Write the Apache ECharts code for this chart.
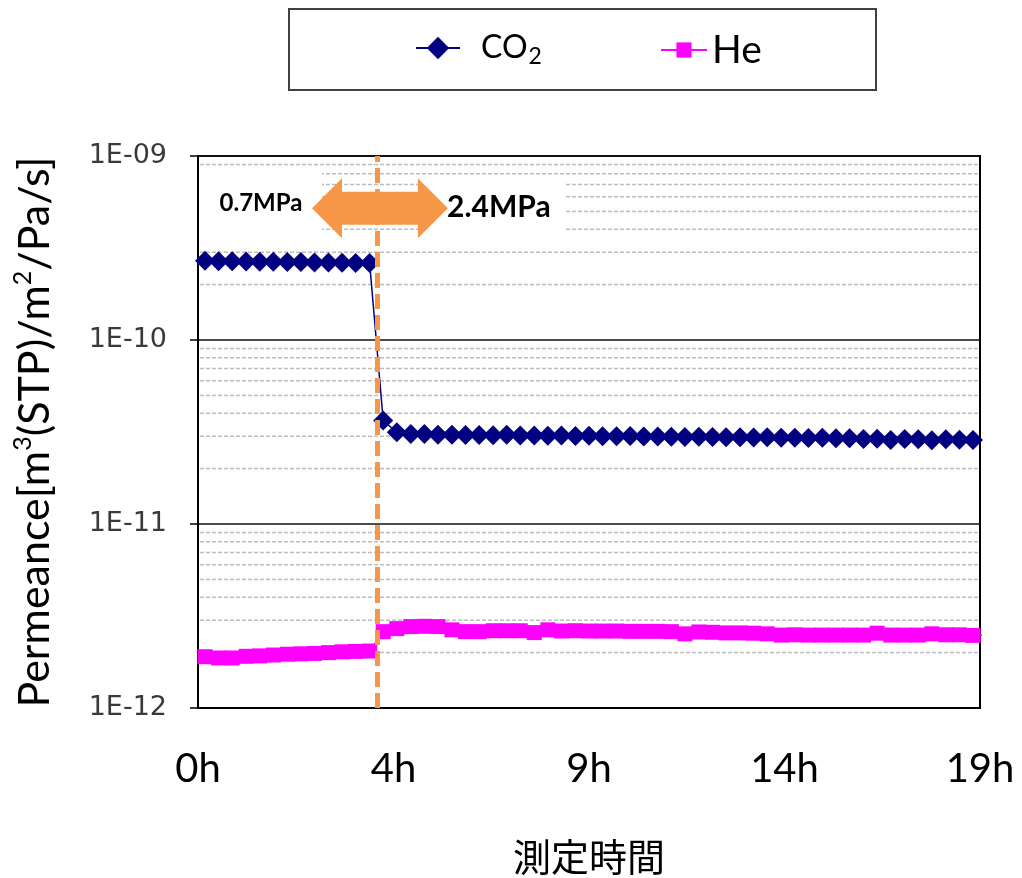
<!DOCTYPE html>
<html><head><meta charset="utf-8">
<script src="https://cdn.jsdelivr.net/npm/echarts@6/dist/echarts.min.js"></script>
<style>html,body{margin:0;padding:0;background:#fff}#c{width:1022px;height:878px}</style>
</head><body><div id="c"></div>
<script>
// ---- data (hours since start) ----
const timesH = [0.17,0.5,0.83,1.17,1.5,1.83,2.17,2.5,2.83,3.17,3.5,3.83,4.17,
  4.5,4.83,5.17,5.5,5.83,6.17,6.5,6.83,7.17,7.5,7.83,8.17,8.5,8.83,9.17,9.5,9.83,
  10.17,10.5,10.83,11.17,11.5,11.83,12.17,12.5,12.83,13.17,13.5,13.83,14.17,14.5,14.83,
  15.17,15.5,15.83,16.17,16.5,16.83,17.17,17.5,17.83,18.17,18.5,18.83,19.17];
const co2 = [2.70e-10,2.68e-10,2.68e-10,2.67e-10,2.66e-10,2.66e-10,2.65e-10,2.65e-10,2.64e-10,2.64e-10,2.63e-10,2.62e-10,2.62e-10,
  3.65e-11,3.15e-11,3.08e-11,3.08e-11,3.06e-11,3.06e-11,3.05e-11,3.05e-11,3.04e-11,3.06e-11,3.03e-11,3.03e-11,3.02e-11,3.03e-11,3.01e-11,3.02e-11,3.00e-11,
  3.00e-11,3.01e-11,2.99e-11,2.99e-11,2.98e-11,2.97e-11,2.98e-11,2.97e-11,2.96e-11,2.96e-11,2.95e-11,2.96e-11,2.94e-11,2.94e-11,2.93e-11,
  2.94e-11,2.92e-11,2.92e-11,2.90e-11,2.91e-11,2.86e-11,2.90e-11,2.89e-11,2.85e-11,2.89e-11,2.87e-11,2.86e-11,2.87e-11];
const he = [1.90e-12,1.87e-12,1.87e-12,1.91e-12,1.92e-12,1.94e-12,1.96e-12,1.97e-12,1.98e-12,2.00e-12,2.02e-12,2.03e-12,2.04e-12,
  2.60e-12,2.70e-12,2.77e-12,2.78e-12,2.77e-12,2.66e-12,2.60e-12,2.60e-12,2.63e-12,2.63e-12,2.63e-12,2.57e-12,2.66e-12,2.62e-12,2.63e-12,2.62e-12,2.62e-12,
  2.62e-12,2.61e-12,2.61e-12,2.61e-12,2.60e-12,2.53e-12,2.59e-12,2.58e-12,2.56e-12,2.56e-12,2.55e-12,2.53e-12,2.49e-12,2.50e-12,2.49e-12,
  2.49e-12,2.49e-12,2.49e-12,2.49e-12,2.55e-12,2.49e-12,2.49e-12,2.49e-12,2.53e-12,2.50e-12,2.50e-12,2.48e-12,2.49e-12];
const seriesNames = ['CO2','He'];
const xTickLabels = ['0h','4h','9h','14h','19h'];
const yTickLabels = ['1E-12','1E-11','1E-10','1E-09'];
const xAxisTitle = '測定時間';
const pressureChangeH = 4.35;
const pressureLabels = ['0.7MPa','2.4MPa'];

// ---- annotation anchors (data units) ----
const lowLabelAt = [1.53, 5.55e-10];
const highLabelAt = [7.31, 5.28e-10];
const arrowFrom = [2.77, 5.2e-10];
const arrowTo = [6.07, 5.2e-10];

// minor log grid values (2..9 x 10^d)
const minorGrid = [];
for (let d = -12; d < -9; d++) for (let m = 2; m <= 9; m++) minorGrid.push([0, m * Math.pow(10, d)]);

const chart = echarts.init(document.getElementById('c'), null, {renderer: 'canvas'});
const lato = 'Lato, "Open Sans", sans-serif';
chart.setOption({
  animation: false,
  backgroundColor: '#fff',
  grid: {left: 198, right: 42, top: 156, bottom: 170, outerBoundsMode: 'none', containLabel: false,
    show: true, borderColor: '#000', borderWidth: 2, backgroundColor: 'transparent'},
  legend: [
    {data: [{name: 'CO2'}], left: 410, top: 27, itemWidth: 44, itemHeight: 28,
     formatter: () => '{a|CO}{b|2}',
     textStyle: {padding: [0, 0, 0, 16], rich: {
       a: {fontFamily: lato, fontSize: 32, color: '#000', lineHeight: 40},
       b: {fontFamily: lato, fontSize: 23, color: '#000', lineHeight: 12, verticalAlign: 'bottom', padding: [0, 0, 0, 1]}}}},
    {data: [{name: 'He'}], left: 655, top: 21, itemWidth: 46, itemHeight: 19,
     textStyle: {fontFamily: lato, fontSize: 39, color: '#000', lineHeight: 40, padding: [0, 0, 8, 0]}}
  ],
  xAxis: {
    type: 'value', min: 0, max: 19, interval: 4.75,
    axisLine: {show: true, onZero: false, lineStyle: {color: '#000', width: 2}},
    axisTick: {show: false},
    splitLine: {show: false},
    axisLabel: {margin: 41, fontFamily: lato, fontSize: 40, color: '#000',
      formatter: v => xTickLabels[Math.round(v / 4.75)]},
    name: xAxisTitle, nameLocation: 'middle', nameGap: 130,
    nameTextStyle: {fontFamily: '"Noto Sans CJK JP", sans-serif', fontSize: 38, color: '#000'}
  },
  yAxis: {
    type: 'log', logBase: 10, min: 1e-12, max: 1e-9,
    axisLine: {show: true, lineStyle: {color: '#000', width: 2}},
    axisTick: {show: true, length: 8, lineStyle: {color: '#000', width: 1.5}},
    axisLabel: {margin: 31, fontFamily: '"DejaVu Sans", Verdana, sans-serif', fontSize: 27, color: '#3a3a3a',
      formatter: v => yTickLabels[Math.round(Math.log10(v)) + 12]},
    splitLine: {show: true, lineStyle: {color: '#111', width: 1.5}},
    name: 'Permeance[m{sup|3}(STP)/m{sup|2}/Pa/s]', nameLocation: 'middle', nameGap: 138,
    nameTextStyle: {fontFamily: lato, fontSize: 43, color: '#000', lineHeight: 50,
      rich: {sup: {fontFamily: lato, fontSize: 25, color: '#000', lineHeight: 32, verticalAlign: 'top'}}}
  },
  series: [
    {type: 'custom', name: 'minor', data: minorGrid, z: 1, silent: true, clip: false,
     encode: {x: 0, y: 1},
     renderItem: (params, api) => {
       const y = api.coord([0, api.value(1)])[1];
       const cs = params.coordSys;
       return {type: 'line', shape: {x1: cs.x + 2, y1: y, x2: cs.x + cs.width - 2, y2: y},
         style: {stroke: '#bdbdbd', lineWidth: 1.5, lineDash: [4, 2]}};
     }},
    {type: 'line', name: seriesNames[0], data: timesH.map((t, i) => [t, co2[i]]), z: 3,
     symbol: 'diamond', symbolSize: 20, color: '#000080',
     lineStyle: {color: '#000080', width: 1.5}, itemStyle: {color: '#000080'}},
    {type: 'line', name: seriesNames[1], data: timesH.map((t, i) => [t, he[i]]), z: 3,
     symbol: 'rect', symbolSize: 15, color: '#FF00FF',
     lineStyle: {color: '#FF00FF', width: 1.5}, itemStyle: {color: '#FF00FF'}},
    {type: 'line', name: 'change', data: [], z: 5, silent: true,
     markLine: {silent: true, symbol: 'none', label: {show: false}, animation: false,
       lineStyle: {color: '#F79646', width: 5, type: [15, 6]}, data: [{xAxis: pressureChangeH}]}}
  ]
});

const p = v => chart.convertToPixel({gridIndex: 0}, v);
const a0 = p(arrowFrom), a1 = p(arrowTo);
const cy = a0[1], headL = 30, headH = 30, shaftH = 16.5;
const lo = p(lowLabelAt), hi = p(highLabelAt);
chart.setOption({
  graphic: [
    {type: 'rect', z: 10, shape: {x: 200, y: lo[1] - 30, width: 122, height: 68}, style: {fill: '#fff'}},
    {type: 'rect', z: 10, shape: {x: hi[0] - 76, y: hi[1] - 32, width: 142, height: 68}, style: {fill: '#fff'}},
    {type: 'text', z: 12, x: lo[0], y: lo[1],
     style: {text: pressureLabels[0], fontFamily: lato, fontWeight: 'bold', fontSize: 24, fill: '#000', align: 'center', verticalAlign: 'middle'}},
    {type: 'text', z: 12, x: hi[0], y: hi[1],
     style: {text: pressureLabels[1], fontFamily: lato, fontWeight: 'bold', fontSize: 30, fill: '#000', align: 'center', verticalAlign: 'middle'}},
    {type: 'polygon', z: 11, shape: {points: [
      [a0[0], cy], [a0[0] + headL, cy - headH], [a0[0] + headL, cy - shaftH],
      [a1[0] - headL, cy - shaftH], [a1[0] - headL, cy - headH], [a1[0], cy],
      [a1[0] - headL, cy + headH], [a1[0] - headL, cy + shaftH],
      [a0[0] + headL, cy + shaftH], [a0[0] + headL, cy + headH]]},
     style: {fill: '#F79646'}},
    {type: 'rect', z: 10, shape: {x: 289, y: 9, width: 587, height: 81}, style: {fill: 'none', stroke: '#404040', lineWidth: 2}}
  ]
});
</script></body></html>
